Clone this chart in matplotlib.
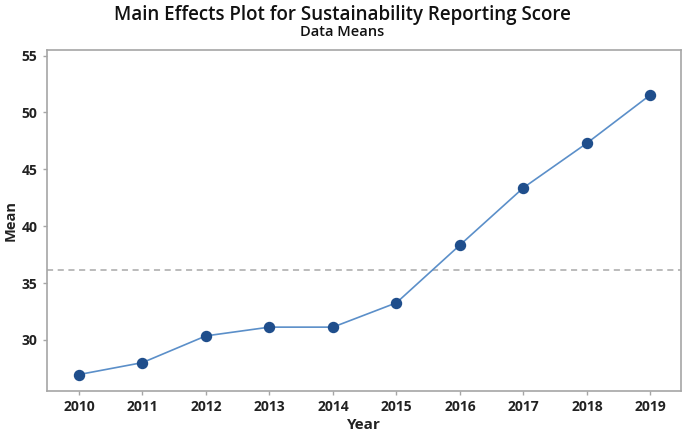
import matplotlib.pyplot as plt

# data
years = ["2010", "2011", "2012", "2013", "2014", "2015", "2016", "2017", "2018", "2019"]
means = [26.95, 28.0, 30.35, 31.12, 31.12, 33.26, 38.34, 43.38, 47.3, 51.55]
grand_mean = 36.14
y_ticks = [30, 35, 40, 45, 50, 55]

plt.rcParams['font.family'] = ['Open Sans', 'DejaVu Sans']

fig = plt.figure(figsize=(6.85, 4.34), dpi=100)
ax = fig.add_axes([0.068, 0.099, 0.926, 0.786])

xs = list(range(len(years)))
ax.plot(xs, means, color='#5b8fc9', linewidth=1.2, zorder=2)
ax.plot(xs, means, linestyle='none', marker='o', markersize=7.2,
        color='#1f4e8c', markeredgecolor='#1f4e8c', zorder=3)
ax.axhline(grand_mean, color='#a8a8a8', linestyle=(0, (4, 3)), linewidth=1.1, zorder=1)

ax.set_xlim(-0.51, 9.48)
ax.set_ylim(25.5, 55.5)
ax.set_xticks(xs)
ax.set_xticklabels(years)
ax.set_yticks(y_ticks)

for s in ax.spines.values():
    s.set_color('#a6a6a6')
    s.set_linewidth(1.2)
ax.tick_params(colors='#a6a6a6', length=3, width=1, labelcolor='#222222', labelsize=10)
for lab in ax.get_xticklabels() + ax.get_yticklabels():
    lab.set_fontweight('bold')

ax.set_xlabel("Year", fontsize=11, fontweight='bold', color='#222222', labelpad=3)
# y label placed by hand so it sits near the left edge like the reference
fig.text(11 / 685, 0.493, "Mean", rotation=90, ha='center', va='center',
         fontsize=10.5, fontweight='bold', color='#222222')

fig.text(0.5, 0.966, "Main Effects Plot for Sustainability Reporting Score",
         ha='center', va='center', fontsize=13.5, fontweight='semibold', color='#111111')
fig.text(0.5, 0.926, "Data Means", ha='center', va='center',
         fontsize=10.5, fontweight='semibold', color='#111111')

fig.savefig("out.png", dpi=100)
